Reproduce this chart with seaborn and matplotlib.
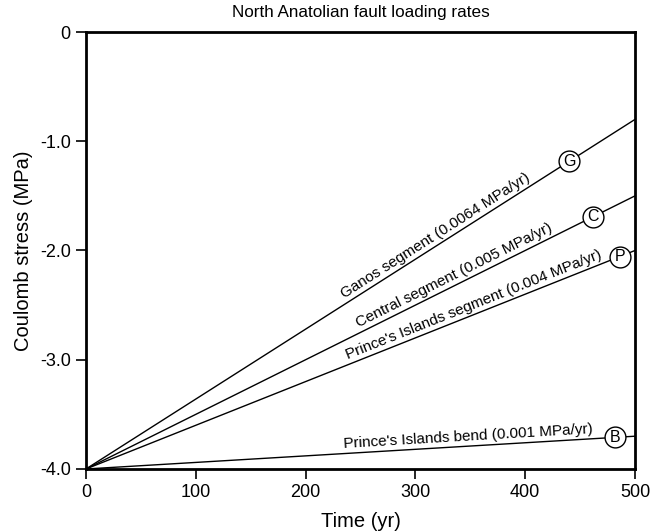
import numpy as np
import pandas as pd
import matplotlib
matplotlib.use("Agg")
import matplotlib.pyplot as plt
import seaborn as sns

# ---- data ----
fault_names = ["Ganos segment", "Central segment",
               "Prince's Islands segment", "Prince's Islands bend"]
rate_text = ["0.0064", "0.005", "0.004", "0.001"]
marker_letters = ["G", "C", "P", "B"]
start_time = 0
end_time = 500
start_stress = -4.0
end_stress = [-0.8, -1.5, -2.0, -3.7]
marker_time = [440, 462, 486, 482]
label_time = [323, 339, 356, 349]

x_ticks = [0, 100, 200, 300, 400, 500]
y_ticks = [0, -1.0, -2.0, -3.0, -4.0]
y_tick_labels = ["0", "-1.0", "-2.0", "-3.0", "-4.0"]

rows = []
for name, e in zip(fault_names, end_stress):
    rows.append({"fault": name, "time": start_time, "stress": start_stress})
    rows.append({"fault": name, "time": end_time, "stress": e})
df = pd.DataFrame(rows)

sns.set_style("ticks")
plt.rcParams["font.family"] = ["Liberation Sans", "DejaVu Sans"]
plt.rcParams["text.color"] = "black"
plt.rcParams["axes.labelcolor"] = "black"

fig = plt.figure(figsize=(6.64, 5.31), dpi=100)
ax = fig.add_axes([0.1295, 0.1168, 0.9563 - 0.1295, 0.9397 - 0.1168])

sns.lineplot(data=df, x="time", y="stress", hue="fault",
             palette=["black"] * 4, linewidth=1.0, legend=False, ax=ax)

ax.set_xlim(0, 500)
ax.set_ylim(-4.0, 0)
ax.set_xticks(x_ticks)
ax.set_yticks(y_ticks)
ax.set_yticklabels(y_tick_labels)
ax.tick_params(direction="out", length=7.5, width=1.2, labelsize=13,
               colors="black", pad=3.5)
for s in ax.spines.values():
    s.set_linewidth(2.0)
    s.set_color("black")
    s.set_visible(True)

ax.set_xlabel("Time (yr)", fontsize=14.5, labelpad=8)
ax.set_ylabel("Coulomb stress (MPa)", fontsize=14.5, labelpad=5)
ax.set_title("North Anatolian fault loading rates", fontsize=12.3, pad=11)

for name, rate, letter, e, mt, lt in zip(fault_names, rate_text, marker_letters,
                                         end_stress, marker_time, label_time):
    slope = (e - start_stress) / (end_time - start_time)
    p1 = ax.transData.transform((start_time, start_stress))
    p2 = ax.transData.transform((end_time, e))
    ang = np.degrees(np.arctan2(p2[1] - p1[1], p2[0] - p1[0]))
    ly = start_stress + slope * (lt - start_time)
    off = 1.5
    dx = -np.sin(np.radians(ang)) * off
    dy = np.cos(np.radians(ang)) * off
    ax.annotate(f"{name} ({rate} MPa/yr)", xy=(lt, ly), xytext=(dx, dy),
                textcoords="offset points", rotation=ang,
                rotation_mode="anchor", ha="center", va="bottom", fontsize=11)
    my = start_stress + slope * (mt - start_time)
    ax.plot([mt], [my], marker="o", markersize=15, markerfacecolor="white",
            markeredgecolor="black", markeredgewidth=1.0, zorder=5)
    ax.text(mt, my, letter, ha="center", va="center", fontsize=11.5, zorder=6)

fig.savefig("out.png", dpi=100)
